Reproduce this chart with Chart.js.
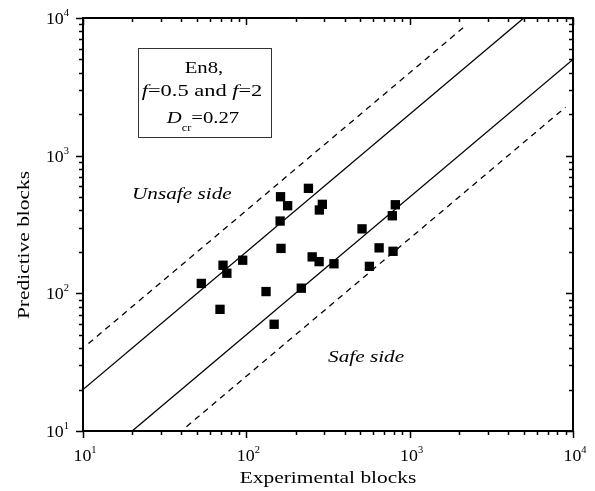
<!DOCTYPE html>
<html>
<head>
<meta charset="utf-8">
<style>
  html, body { margin: 0; padding: 0; background: #fff; }
  #chart { display: block; }
</style>
<script src="https://cdn.jsdelivr.net/npm/chart.js@4/dist/chart.umd.min.js"></script>
</head>
<body>
<canvas id="chart" width="595" height="491"></canvas>
<script>
// experimental vs predicted blocks
const expBlocks = [53, 69, 72, 76, 95, 132, 148, 161, 162, 163, 179, 217, 240, 253, 279, 280, 292, 344, 511, 567, 650, 783, 791, 817];
const predBlocks = [118, 76.5, 160, 140, 174, 103, 59.6, 335, 503, 212, 433, 109, 579, 184, 170, 403, 443, 164, 294, 157, 214, 366, 202, 440];

// scatter band lines: f=2 / f=0.5 (solid), f=4 / f=0.25 (dashed)
const upperSolidX = [10, 5000];
const upperSolidY = [20, 10000];
const lowerSolidX = [20, 10000];
const lowerSolidY = [10, 5000];
const upperDashX = [10.8, 2240];
const upperDashY = [43.2, 8960];
const lowerDashX = [43, 9000];
const lowerDashY = [10.75, 2250];

const decades = [10, 100, 1000, 10000];
const decadeExp = ['1', '2', '3', '4'];

const SERIF = '"Liberation Serif", "Times New Roman", serif';

function pts(xs, ys) { return xs.map((x, i) => ({ x: x, y: ys[i] })); }

function lineSet(xs, ys, dash) {
    return {
        data: pts(xs, ys),
        showLine: true,
        borderColor: '#000',
        borderWidth: 1.3,
        borderDash: dash,
        pointRadius: 0,
        fill: false
    };
}

// draw text made of several runs (italic, sub/superscript), centred or aligned
function drawRuns(ctx, runs, x, base, align, sx) {
    let w = 0;
    runs.forEach(r => { ctx.font = r.font; r.w = ctx.measureText(r.text).width; w += r.w; });
    let start = align === 'center' ? -w / 2 : (align === 'right' ? -w : 0);
    ctx.save();
    ctx.translate(x, base);
    ctx.scale(sx, 1);
    ctx.textAlign = 'left';
    ctx.textBaseline = 'alphabetic';
    let cx = start;
    runs.forEach(r => {
        ctx.font = r.font;
        ctx.fillText(r.text, cx, r.dy || 0);
        cx += r.w;
    });
    ctx.restore();
}

const framePlugin = {
    id: 'frame',
    afterDraw(chart) {
        const ctx = chart.ctx;
        const a = chart.chartArea;
        const xs = chart.scales.x, ys = chart.scales.y;
        ctx.save();
        ctx.fillStyle = '#000';
        ctx.strokeStyle = '#000';

        // ticks
        ctx.lineWidth = 1.5;
        const ticks = [];
        decades.forEach((d, i) => {
            ticks.push({ v: d, major: true });
            if (i < decades.length - 1) for (let m = 2; m <= 9; m++) ticks.push({ v: d * m, major: false });
        });
        ctx.beginPath();
        ticks.forEach(t => {
            const len = t.major ? 7 : 4;
            const px = Math.round(xs.getPixelForValue(t.v)) + 0.5;
            ctx.moveTo(px, a.bottom); ctx.lineTo(px, a.bottom + len);   // bottom, outward
            ctx.moveTo(px, a.top); ctx.lineTo(px, a.top + len);         // top, inward
            const py = Math.round(ys.getPixelForValue(t.v)) + 0.5;
            ctx.moveTo(a.left, py); ctx.lineTo(a.left - len, py);       // left, outward
            ctx.moveTo(a.right, py); ctx.lineTo(a.right - len, py);     // right, inward
        });
        ctx.stroke();

        // frame
        ctx.lineWidth = 2;
        ctx.strokeRect(a.left, a.top, a.right - a.left, a.bottom - a.top);

        // tick labels
        decades.forEach((d, i) => {
            const runs = [
                { text: '10', font: '17px ' + SERIF },
                { text: decadeExp[i], font: '10px ' + SERIF, dy: -8 }
            ];
            drawRuns(ctx, runs, xs.getPixelForValue(d) + 2, 461, 'center', 1.05);
            drawRuns(ctx, runs.map(r => Object.assign({}, r)), 69, ys.getPixelForValue(d) + 6, 'right', 1.05);
        });

        // axis titles
        drawRuns(ctx, [{ text: 'Experimental blocks', font: '17px ' + SERIF }], 328, 483, 'center', 1.26);
        ctx.save();
        ctx.translate(29, 245);
        ctx.rotate(-Math.PI / 2);
        drawRuns(ctx, [{ text: 'Predictive blocks', font: '17px ' + SERIF }], 0, 0, 'center', 1.26);
        ctx.restore();

        // annotation box
        ctx.lineWidth = 1;
        ctx.strokeStyle = '#333';
        ctx.strokeRect(138.5, 48.5, 133, 89);
        const it = 'italic 17px ' + SERIF, rg = '17px ' + SERIF;
        drawRuns(ctx, [{ text: 'En8,', font: rg }], 204, 73, 'center', 1.22);
        drawRuns(ctx, [
            { text: 'f', font: it }, { text: '=0.5 and ', font: rg },
            { text: 'f', font: it }, { text: '=2', font: rg }
        ], 202, 96, 'center', 1.32);
        drawRuns(ctx, [
            { text: 'D', font: it }, { text: 'cr', font: '10px ' + SERIF, dy: 8 },
            { text: '=0.27', font: rg }
        ], 203, 123, 'center', 1.22);

        // region labels
        drawRuns(ctx, [{ text: 'Unsafe side', font: it }], 132, 199, 'left', 1.25);
        drawRuns(ctx, [{ text: 'Safe side', font: it }], 328, 362, 'left', 1.25);
        ctx.restore();
    }
};

new Chart(document.getElementById('chart'), {
    type: 'scatter',
    data: {
        datasets: [
            {
                data: pts(expBlocks, predBlocks),
                pointStyle: 'rect',
                pointRadius: 6.6,
                pointHoverRadius: 6.6,
                backgroundColor: '#000',
                borderColor: '#000',
                borderWidth: 0
            },
            lineSet(upperSolidX, upperSolidY, []),
            lineSet(lowerSolidX, lowerSolidY, []),
            lineSet(upperDashX, upperDashY, [6, 5]),
            lineSet(lowerDashX, lowerDashY, [6, 5])
        ]
    },
    options: {
        responsive: false,
        animation: false,
        layout: { padding: { left: 83, top: 18, right: 22, bottom: 60 } },
        plugins: { legend: { display: false }, tooltip: { enabled: false } },
        scales: {
            x: { type: 'logarithmic', min: 10, max: 10000, display: false },
            y: { type: 'logarithmic', min: 10, max: 10000, display: false }
        }
    },
    plugins: [framePlugin]
});
</script>
</body>
</html>
